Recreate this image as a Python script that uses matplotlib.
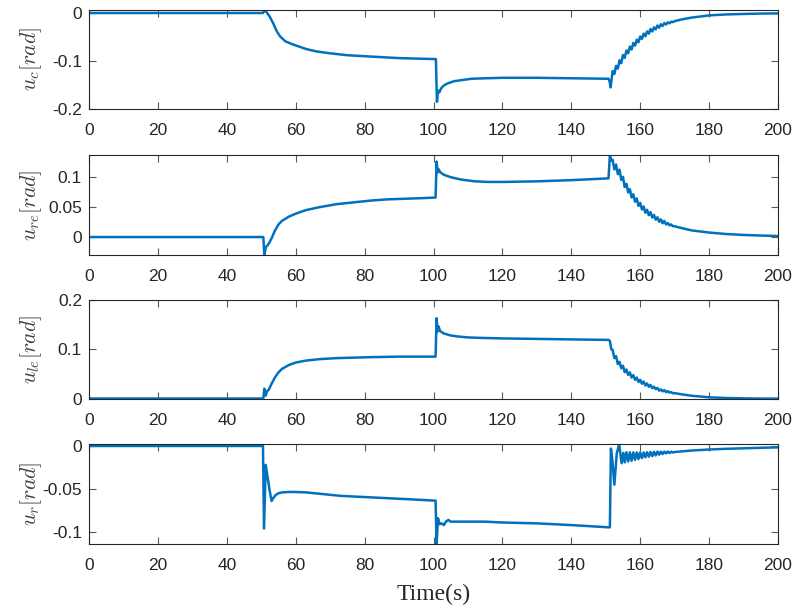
import numpy as np
import matplotlib
matplotlib.use("Agg")
import matplotlib.pyplot as plt

# ---------------- data ----------------
# common time grids
t_osc = [152.0, 152.5, 153.0, 153.5, 154.0, 154.5, 155.0, 155.5, 156.0, 156.5,
         157.0, 157.5, 158.0, 158.5, 159.0, 159.5, 160.0, 160.5, 161.0, 161.5,
         162.0, 162.5, 163.0, 163.5, 164.0, 164.5, 165.0, 165.5, 166.0, 166.5,
         167.0, 167.5, 168.0, 168.5, 169.0, 169.5, 170.0]
t_tail = [172, 175, 180, 185, 190, 195, 200]

# u_c
tc_a = [0, 50.5, 51.0, 51.5, 52.5, 53.5, 54.5, 55.5, 57, 59, 61, 63, 66, 70, 75, 80, 85, 90, 95, 100.7,
        101.0, 101.2, 101.4, 101.7, 102.2, 103, 104, 106, 108, 111, 115, 120, 130, 140, 150.8, 151.1, 151.4, 151.7]
uc_a = [0, 0, 0.006, 0.002, -0.008, -0.022, -0.038, -0.049, -0.059, -0.065, -0.070, -0.075, -0.080, -0.084,
        -0.088, -0.090, -0.092, -0.094, -0.095, -0.096,
        -0.185, -0.170, -0.162, -0.165, -0.157, -0.151, -0.147, -0.142, -0.140, -0.137, -0.136, -0.135, -0.135,
        -0.136, -0.137, -0.142, -0.155, -0.138]
uc_osc = [-0.121, -0.127, -0.110, -0.116, -0.0985, -0.1045, -0.0875, -0.0935, -0.078, -0.084, -0.070, -0.076,
          -0.0625, -0.068, -0.0555, -0.061, -0.049, -0.054, -0.043, -0.0485, -0.0385, -0.043, -0.0335, -0.0385,
          -0.030, -0.034, -0.026, -0.0305, -0.0235, -0.027, -0.021, -0.024, -0.0195, -0.0215, -0.018, -0.019, -0.017]
uc_tail = [-0.0135, -0.0095, -0.005, -0.003, -0.002, -0.0012, -0.0008]

# u_re
tre_a = [0, 50.6, 50.9, 51.3, 51.8, 52.3, 53, 54, 55, 56, 58, 60, 63, 67, 72, 77, 82, 87, 92, 97, 100.6,
         100.9, 101.2, 101.5, 102, 103, 105, 108, 112, 116, 120, 130, 140, 150.8, 151.2, 151.6]
ure_a = [0, 0, -0.030, -0.017, -0.014, -0.010, -0.002, 0.011, 0.021, 0.027, 0.034, 0.039, 0.045, 0.050,
         0.055, 0.058, 0.061, 0.063, 0.064, 0.065, 0.066,
         0.126, 0.108, 0.113, 0.108, 0.104, 0.100, 0.096, 0.093, 0.092, 0.092, 0.093, 0.095, 0.098, 0.137, 0.128]
ure_osc = [0.129, 0.113, 0.121, 0.105, 0.1125, 0.0955, 0.1005, 0.0835, 0.089, 0.0745, 0.080, 0.066, 0.0715,
           0.059, 0.0645, 0.052, 0.057, 0.046, 0.051, 0.0405, 0.0455, 0.0365, 0.0415, 0.0325, 0.037, 0.029,
           0.033, 0.0255, 0.0295, 0.023, 0.027, 0.021, 0.0235, 0.0195, 0.021, 0.018, 0.018]
ure_tail = [0.015, 0.011, 0.0075, 0.005, 0.0035, 0.0025, 0.0017]

# u_le
tle_a = [0, 50.6, 50.9, 51.3, 51.7, 52.2, 53, 54, 55, 56, 58, 60, 63, 67, 72, 77, 82, 90, 100.6,
         100.9, 101.2, 101.5, 101.9, 103, 105, 107, 110, 114, 120, 130, 140, 150.8, 151.2, 151.6]
ule_a = [0, 0, 0.020, 0.006, 0.015, 0.018, 0.030, 0.043, 0.053, 0.060, 0.068, 0.073, 0.077, 0.080, 0.082,
         0.083, 0.084, 0.085, 0.085,
         0.163, 0.136, 0.146, 0.137, 0.132, 0.128, 0.126, 0.124, 0.123, 0.122, 0.121, 0.120, 0.119, 0.117, 0.100]
ule_osc = [0.099, 0.082, 0.086, 0.070, 0.0745, 0.0615, 0.0665, 0.0535, 0.059, 0.048, 0.053, 0.0425, 0.0475,
           0.038, 0.0425, 0.0335, 0.038, 0.030, 0.0345, 0.0265, 0.0305, 0.024, 0.0275, 0.021, 0.024, 0.019,
           0.0215, 0.016, 0.0185, 0.0145, 0.017, 0.013, 0.015, 0.012, 0.013, 0.0105, 0.011]
ule_tail = [0.0085, 0.0055, 0.0025, 0.001, 0.0003, -0.0002, -0.0003]

# u_r
tr_a = [0, 50.5, 50.8, 51.3, 51.8, 52.4, 53.0, 53.6, 54.2, 55, 56, 58, 60, 63, 68, 73, 78, 83, 88, 93, 100.6,
        100.9, 101.3, 101.8, 102.4, 103.0, 103.6, 104.3, 105, 106, 110, 115, 120, 130, 140, 150.8,
        151.2, 151.5, 151.9, 152.5, 153.2, 153.9, 154.6, 155.1]
ur_a = [0, 0, -0.096, -0.022, -0.035, -0.051, -0.064, -0.060, -0.057, -0.055, -0.054, -0.0535, -0.0535,
        -0.054, -0.056, -0.058, -0.059, -0.060, -0.061, -0.062, -0.0636,
        -0.114, -0.084, -0.091, -0.090, -0.092, -0.088, -0.086, -0.088, -0.088, -0.088, -0.088, -0.089,
        -0.090, -0.092, -0.0946,
        -0.0946, -0.003, -0.016, -0.045, -0.0085, 0.002, -0.020, -0.008]
ur_osc = [-0.019, -0.0073, -0.018, -0.0074, -0.0172, -0.0075, -0.0162, -0.0075, -0.0152, -0.0075, -0.0142,
          -0.0075, -0.0132, -0.0072, -0.0125, -0.007, -0.0118, -0.0068, -0.011, -0.0065, -0.0101, -0.0066,
          -0.0094, -0.0065, -0.0087, -0.0065, -0.0082, -0.0067, -0.0076, -0.007]
ur_tail = [-0.0063, -0.0053, -0.0041, -0.0033, -0.0027, -0.0021, -0.0016]

ylabels = [r'$u_c[rad]$', r'$u_{re}[rad]$', r'$u_{le}[rad]$', r'$u_r[rad]$']
yticks = [[-0.2, -0.1, 0], [0, 0.05, 0.1], [0, 0.1, 0.2], [-0.1, -0.05, 0]]
yticklabels = [['-0.2', '-0.1', '0'], ['0', '0.05', '0.1'], ['0', '0.1', '0.2'], ['-0.1', '-0.05', '0']]
ylims = [(-0.2, 0.00625), (-0.03, 0.137), (-0.001, 0.2), (-0.114, 0.0023)]
xticks = [0, 20, 40, 60, 80, 100, 120, 140, 160, 180, 200]

series = [
    (tc_a + t_osc + t_tail, uc_a + uc_osc + uc_tail),
    (tre_a + t_osc + t_tail, ure_a + ure_osc + ure_tail),
    (tle_a + t_osc + t_tail, ule_a + ule_osc + ule_tail),
    (tr_a + t_osc[7:] + t_tail, ur_a + ur_osc + ur_tail),
]

# ---------------- drawing ----------------
plt.rcParams['mathtext.fontset'] = 'cm'
plt.rcParams['font.family'] = ['Liberation Sans', 'DejaVu Sans']

W, H = 796, 610
fig = plt.figure(figsize=(W / 100, H / 100), dpi=100)
dark = (0.15, 0.15, 0.15)
left_px, right_px = 89, 778
tops = [10, 155, 300, 444]
bottoms = [109, 255, 399, 544]

for i in range(4):
    ax = fig.add_axes([left_px / W, 1 - bottoms[i] / H, (right_px - left_px) / W, (bottoms[i] - tops[i]) / H])
    t, u = series[i]
    ax.plot(t, u, color='#0072BD', lw=1.8, solid_joinstyle='round')
    ax.set_xlim(0, 200)
    ax.set_ylim(*ylims[i])
    ax.set_xticks(xticks)
    ax.set_xticklabels([str(v) for v in xticks])
    ax.set_yticks(yticks[i])
    ax.set_yticklabels(yticklabels[i])
    ax.tick_params(direction='in', top=True, right=True, length=5, width=0.8,
                   color=(0.35, 0.35, 0.35), labelcolor=dark, labelsize=12.5)
    ax.tick_params(axis='x', pad=10)
    ax.tick_params(axis='y', pad=5)
    for s in ax.spines.values():
        s.set_color(dark)
        s.set_linewidth(0.8)
    ax.set_ylabel(ylabels[i], fontsize=15.5, color=(0.25, 0.25, 0.25))
    ax.yaxis.set_label_coords(-0.066, 0.5)
    if i == 3:
        ax.set_xlabel('Time(s)', fontsize=17, family='Liberation Serif', color=dark, labelpad=8)

fig.savefig('out.png', dpi=100)
